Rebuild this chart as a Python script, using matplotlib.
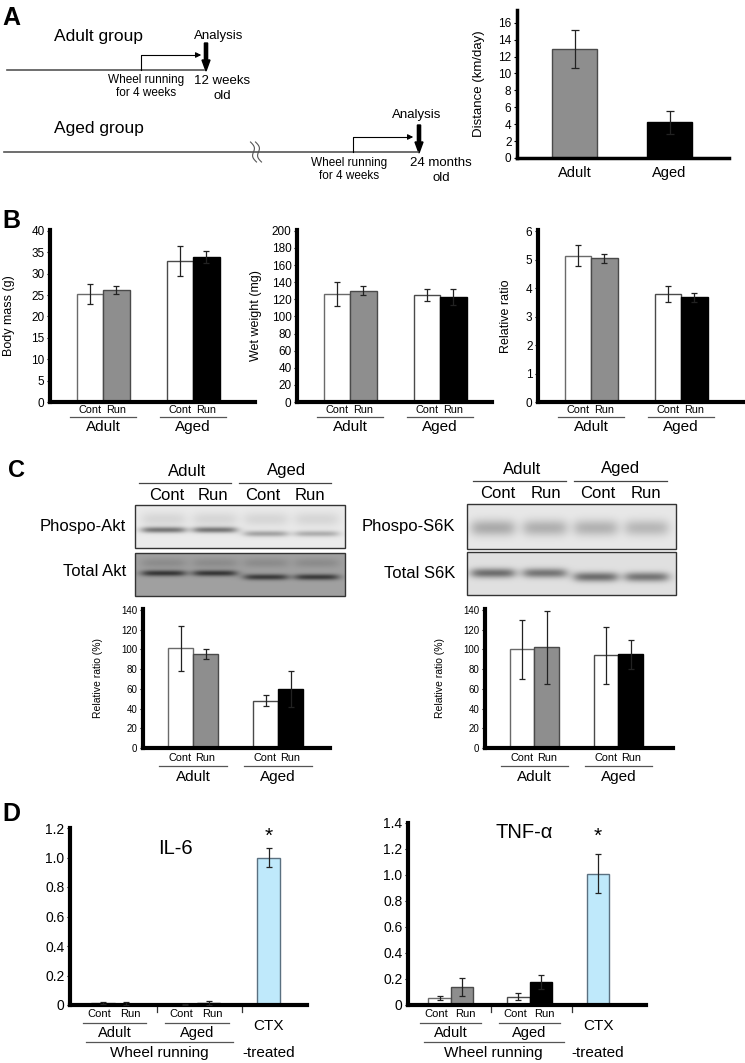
import numpy as np
import matplotlib
matplotlib.use("Agg")
import matplotlib.pyplot as plt
from matplotlib.patches import FancyArrow, Rectangle

plt.rcParams['font.family'] = ['Liberation Sans', 'DejaVu Sans']

W, H = 745, 1063

# ---------------- datos ----------------
# A: distancia recorrida
dist_grupos = ["Adult", "Aged"]
dist_media = [12.9, 4.2]
dist_err = [2.2, 1.4]

# B
condiciones = ["Cont", "Run", "Cont", "Run"]
grupos = ["Adult", "Aged"]
masa_corporal = [25.2, 26.1, 33.0, 34.0]
masa_corporal_err = [2.4, 0.9, 3.5, 1.4]
peso_humedo = [126, 130, 125, 122.5]
peso_humedo_err = [14, 5.5, 6.5, 9.5]
ratio_relativo = [5.15, 5.05, 3.8, 3.68]
ratio_relativo_err = [0.37, 0.15, 0.27, 0.16]

# C: cuantificacion western blot
akt_ratio = [101, 95, 48, 60]
akt_ratio_err = [23, 5, 5.5, 18]
s6k_ratio = [100, 102, 94, 95]
s6k_ratio_err = [30, 37, 29, 15]
# intensidad de bandas (0-1) por carril
akt_fosfo_banda = [0.45, 0.45, 0.28, 0.24]
akt_total_banda = [0.42, 0.42, 0.40, 0.40]
s6k_fosfo_banda = [0.24, 0.22, 0.21, 0.19]
s6k_total_banda = [0.45, 0.42, 0.45, 0.42]

# D: citoquinas
condiciones_d = ["Cont", "Run", "Cont", "Run"]
il6 = [0.012, 0.010, 0.005, 0.015, 1.00]
il6_err = [0.005, 0.010, 0.003, 0.015, 0.065]
tnfa = [0.055, 0.14, 0.065, 0.175, 1.01]
tnfa_err = [0.015, 0.07, 0.025, 0.055, 0.15]

colores4 = ['white', '#8e8e8e', 'white', 'black']
bordes4 = ['#6a6a6a', '#4a4a4a', '#4a4a4a', 'black']
colores5 = colores4 + ['#bfe9fb']
bordes5 = bordes4 + ['#5a7080']

fig = plt.figure(figsize=(W / 100, H / 100), dpi=100)
base = fig.add_axes([0, 0, 1, 1])
base.set_xlim(0, W)
base.set_ylim(H, 0)
base.axis('off')


def ejes(x0, y0, x1, y1):
    return fig.add_axes([x0 / W, 1 - y1 / H, (x1 - x0) / W, (y1 - y0) / H])


def estilo(ax, lw=2.8, fs=8.5):
    for s in ['top', 'right']:
        ax.spines[s].set_visible(False)
    ax.spines['left'].set_linewidth(lw)
    ax.spines['bottom'].set_linewidth(lw)
    ax.tick_params(axis='y', direction='out', length=2.5, width=0.8, labelsize=fs, pad=1.5)
    ax.tick_params(axis='x', length=0, labelbottom=False)
    ax.patch.set_alpha(0)


def barras(ax, pos, vals, errs, colores, bordes, ancho_px, capsize=2.5):
    ancho = ax.get_position().width * W
    ax.set_xlim(0, ancho / ancho_px)
    ax.bar(pos, vals, width=1.0, color=colores, edgecolor=bordes, linewidth=1.0, zorder=2)
    ax.errorbar(pos, vals, yerr=errs, fmt='none', ecolor='#222222', elinewidth=0.9,
                capsize=capsize, capthick=0.9, zorder=3)


def rotulos(ax, pos, conds, grupos, dy_cond, dy_linea, dy_grupo, fs_cond, fs_grupo, ext=0.8,
            separa=0.0):
    h = ax.get_position().height * H
    tr = ax.get_xaxis_transform()
    for i, (p, c) in enumerate(zip(pos, conds)):
        dx = -separa if i % 2 == 0 else separa
        ax.text(p + dx, -dy_cond / h, c, transform=tr, ha='center', va='center', fontsize=fs_cond)
    for g, (a, b) in zip(grupos, [(pos[0], pos[1]), (pos[2], pos[3])]):
        ax.plot([a - ext, b + ext], [-dy_linea / h] * 2, transform=tr, color='#555555',
                lw=0.9, clip_on=False)
        ax.text((a + b) / 2, -dy_grupo / h, g, transform=tr, ha='center', va='center',
                fontsize=fs_grupo)


def blot(x0, y0, x1, y1, intensidades, fondo, centros, y_banda, sigma=0.05, mitad=0.1,
         extra=None):
    nf, nc = int((y1 - y0) * 3), int((x1 - x0) * 3)
    yy = np.linspace(0, 1, nf)[:, None]
    xx = np.linspace(0, 1, nc)[None, :]
    img = np.full((nf, nc), fondo)
    for c, inten, yb in zip(centros, intensidades, y_banda):
        px = 1 / (1 + np.exp(-(xx - (c - mitad)) / 0.015)) / (1 + np.exp((xx - (c + mitad)) / 0.015))
        img -= inten * px * np.exp(-0.5 * ((yy - yb) / sigma) ** 2)
        if extra is not None:
            img -= extra[0] * px * np.exp(-0.5 * ((yy - extra[1]) / extra[2]) ** 2)
    base.imshow(np.clip(img, 0, 1), extent=(x0, x1, y1, y0), cmap='gray', vmin=0, vmax=1,
                aspect='auto', interpolation='bilinear')
    base.add_patch(Rectangle((x0, y0), x1 - x0, y1 - y0, fill=False, edgecolor='#333333', lw=1.0))


# ---------------- letras de panel ----------------
base.text(2, 25, 'A', fontsize=18, fontweight='bold', va='baseline')
base.text(2, 228, 'B', fontsize=18, fontweight='bold', va='baseline')
base.text(8, 477, 'C', fontsize=17, fontweight='bold', va='baseline')
base.text(2, 821, 'D', fontsize=18, fontweight='bold', va='baseline')

# ---------------- A: esquema temporal ----------------
base.text(54, 36, 'Adult group', fontsize=12.5, va='center')
base.plot([7, 204], [70, 70], color='#555555', lw=1.2)
base.plot([141, 141, 198], [70, 55, 55], color='black', lw=0.8)
base.annotate('', xy=(204, 55), xytext=(195, 55),
              arrowprops=dict(arrowstyle='-|>', color='black', lw=0.8, mutation_scale=8))
base.add_patch(FancyArrow(206, 43, 0, 28, width=3.2, head_width=8, head_length=11,
                          length_includes_head=True, color='black'))
base.text(219, 36, 'Analysis', fontsize=9.5, ha='center', va='center')
base.text(146, 80, 'Wheel running', fontsize=8.5, ha='center', va='center')
base.text(146, 93, 'for 4 weeks', fontsize=8.5, ha='center', va='center')
base.text(222, 81, '12 weeks', fontsize=9.5, ha='center', va='center')
base.text(222, 96, 'old', fontsize=9.5, ha='center', va='center')

base.text(54, 128, 'Aged group', fontsize=12.5, va='center')
base.plot([4, 418], [152, 152], color='#555555', lw=1.2)
t = np.linspace(0, 1, 40)
for off in (-2.5, 2.5):
    base.plot(253 + off + 6 * t + 2.2 * np.sin(2 * np.pi * t), 142 + 20 * t, color='#555555', lw=0.8)
base.plot([353, 353, 409], [152, 137, 137], color='black', lw=0.8)
base.annotate('', xy=(416, 137), xytext=(406, 137),
              arrowprops=dict(arrowstyle='-|>', color='black', lw=0.8, mutation_scale=8))
base.add_patch(FancyArrow(419, 125, 0, 28, width=3.2, head_width=8, head_length=11,
                          length_includes_head=True, color='black'))
base.text(417, 115, 'Analysis', fontsize=9.5, ha='center', va='center')
base.text(349, 163, 'Wheel running', fontsize=8.5, ha='center', va='center')
base.text(349, 176, 'for 4 weeks', fontsize=8.5, ha='center', va='center')
base.text(441, 163, '24 months', fontsize=9.5, ha='center', va='center')
base.text(441, 178, 'old', fontsize=9.5, ha='center', va='center')

# ---------------- A: distancia ----------------
axA = ejes(517, 10, 729, 158)
estilo(axA, lw=2.5, fs=8.5)
pos_a = [1.28, 3.39]
barras(axA, pos_a, dist_media, dist_err, ['#8e8e8e', 'black'], ['#4a4a4a', 'black'], 45, capsize=3)
axA.set_ylim(0, 17.5)
axA.set_yticks(range(0, 17, 2))
axA.set_ylabel('Distance (km/day)', fontsize=9.5)
axA.yaxis.set_label_coords(-0.15, 0.5)
hA = axA.get_position().height * H
for p, g in zip(pos_a, dist_grupos):
    axA.text(p, -15 / hA, g, transform=axA.get_xaxis_transform(), ha='center', va='center',
             fontsize=10.5)

# ---------------- B ----------------
pos4 = [1.5, 2.5, 4.9, 5.9]
paneles_b = [
    ((50, 230, 255, 402), masa_corporal, masa_corporal_err, 40.2, range(0, 41, 5), 'Body mass (g)', -0.17),
    ((297, 230, 492, 402), peso_humedo, peso_humedo_err, 201, range(0, 201, 20), 'Wet weight (mg)', -0.18),
    ((538, 230, 745, 402), ratio_relativo, ratio_relativo_err, 6.05, range(0, 7), 'Relative ratio', -0.125),
]
for caja, vals, errs, ytop, ticks, etiqueta, lx in paneles_b:
    ax = ejes(*caja)
    estilo(ax, lw=3.0, fs=8.5)
    barras(ax, pos4, vals, errs, colores4, bordes4, 26.5)
    ax.set_ylim(0, ytop)
    ax.set_yticks(list(ticks))
    ax.set_ylabel(etiqueta, fontsize=9)
    ax.yaxis.set_label_coords(lx, 0.5)
    rotulos(ax, pos4, condiciones, grupos, 8, 15, 25, 7.8, 11, ext=0.75)

# ---------------- C: blots ----------------
carriles_akt = [0.136, 0.381, 0.624, 0.867]
carriles_s6k = [0.124, 0.373, 0.617, 0.861]
blot(135, 505, 345, 548, akt_fosfo_banda, 0.92, carriles_akt, [0.58, 0.58, 0.67, 0.67],
     extra=(0.08, 0.33, 0.12))
blot(135, 553, 345, 596, akt_total_banda, 0.63, carriles_akt, [0.47, 0.47, 0.56, 0.56],
     extra=(0.08, 0.23, 0.08))
blot(467, 504, 676, 549, s6k_fosfo_banda, 0.91, carriles_s6k, [0.53, 0.53, 0.53, 0.53],
     sigma=0.13)
blot(467, 552, 676, 595, s6k_total_banda, 0.88, carriles_s6k, [0.49, 0.49, 0.58, 0.58],
     sigma=0.08)

base.text(126, 527, 'Phospo-Akt', fontsize=12, ha='right', va='center')
base.text(126, 572, 'Total Akt', fontsize=12, ha='right', va='center')
base.text(455, 526, 'Phospo-S6K', fontsize=12, ha='right', va='center')
base.text(455, 573, 'Total S6K', fontsize=12, ha='right', va='center')

for xs, grupos_x, lineas, ylin in [
        ([167, 213, 263, 310], [187, 287], [(139, 231), (239, 331)], 483),
        ([498, 546, 598, 646], [522, 621], [(473, 566), (574, 667)], 481)]:
    for x, c in zip(xs, condiciones):
        base.text(x, ylin + 12, c, fontsize=12, ha='center', va='center')
    for x, g in zip(grupos_x, grupos):
        base.text(x, ylin - 12, g, fontsize=12, ha='center', va='center')
    for a, b in lineas:
        base.plot([a, b], [ylin, ylin], color='#444444', lw=0.9)

# ---------------- C: cuantificacion ----------------
for caja, vals, errs, ancho_px in [((143, 609, 330, 748), akt_ratio, akt_ratio_err, 25),
                                   ((485, 609, 673, 748), s6k_ratio, s6k_ratio_err, 24.7)]:
    ax = ejes(*caja)
    estilo(ax, lw=3.0, fs=7)
    barras(ax, pos4, vals, errs, colores4, bordes4, ancho_px)
    ax.set_ylim(0, 141)
    ax.set_yticks(range(0, 141, 20))
    ax.set_ylabel('Relative ratio (%)', fontsize=7.5)
    ax.yaxis.set_label_coords(-0.215, 0.5)
    rotulos(ax, pos4, condiciones, grupos, 10, 18, 29, 7.8, 11, ext=0.86)

# ---------------- D ----------------
pos5 = [1.4, 2.4, 4.9, 5.9, 8.45]
paneles_d = [
    ((70, 828, 307, 1005), il6, il6_err, 1.2, 'IL-6', 23.5, (0.443, 0.887), 8),
    ((408, 823, 646, 1005), tnfa, tnfa_err, 1.4, 'TNF-α', 22.5, (0.49, 0.95), 13),
]
for caja, vals, errs, ytop, titulo, ancho_px, tpos, off_star in paneles_d:
    ax = ejes(*caja)
    estilo(ax, lw=3.0, fs=10)
    barras(ax, pos5, vals, errs, colores5, bordes5, ancho_px)
    ax.set_ylim(0, ytop)
    ticks = np.round(np.arange(0, ytop + 0.01, 0.2), 1)
    ax.set_yticks(ticks, ['0'] + [f'{v:.1f}' for v in ticks[1:]])
    ax.text(tpos[0], tpos[1], titulo, transform=ax.transAxes, fontsize=14.5, ha='center', va='center')
    ax.annotate('*', xy=(pos5[4], vals[4] + errs[4]), xytext=(0, off_star), textcoords='offset points',
                ha='center', va='center', fontsize=15)
    h = ax.get_position().height * H
    tr = ax.get_xaxis_transform()
    for s in (3.7, 7.3):
        ax.plot([s, s], [0, -7 / h], transform=tr, color='#333333', lw=0.9, clip_on=False)
    rotulos(ax, pos5[:4], condiciones_d, grupos, 9, 18, 28, 8.0, 10.5, ext=0.85, separa=0.15)
    ax.plot([0.7, 6.95], [-37 / h] * 2, transform=tr, color='#555555', lw=0.9, clip_on=False)
    ax.text(3.8, -48 / h, 'Wheel running', transform=tr, fontsize=11, ha='center', va='center')
    ax.text(pos5[4], -21 / h, 'CTX', transform=tr, fontsize=11, ha='center', va='center')
    ax.text(pos5[4], -48 / h, '-treated', transform=tr, fontsize=11, ha='center', va='center')

fig.savefig('out.png', dpi=100)
